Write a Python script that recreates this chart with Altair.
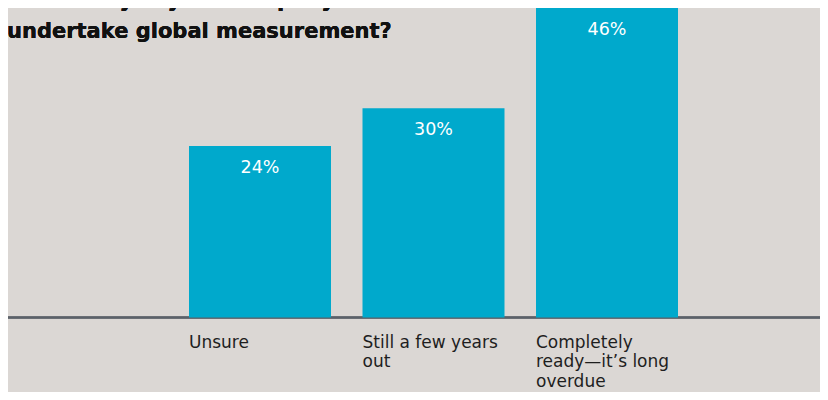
import altair as alt
import pandas as pd

categories = ["Unsure", "Still a few years out", "Completely ready—it’s long overdue"]
labels = ["Unsure", "Still a few years\nout", "Completely\nready—it’s long\noverdue"]
values = [24, 30, 46]
value_text = ["24%", "30%", "46%"]
title_lines = "How ready is your company to\nundertake global measurement?"

BASE = -3.35
FONT = "DejaVu Sans"
W = 812
H = 384
TOP = 46.0
PX_PER_UNIT = 6.273

df = pd.DataFrame({"cat": categories, "label": labels, "value": values,
                   "txt": value_text, "base": [BASE] * 3})

xscale = alt.Scale(domain=categories, range=[181, 670], paddingInner=0.1816, paddingOuter=0)
yscale = alt.Scale(domain=[TOP - H / PX_PER_UNIT, TOP], nice=False, zero=False)

base = alt.Chart(df)

bars = base.mark_bar(color="#00a9cc").encode(
    x=alt.X("cat:N", scale=xscale, axis=None),
    y=alt.Y("value:Q", scale=yscale, axis=None),
    y2="base:Q",
)

vals = base.mark_text(color="white", font=FONT, fontSize=17.5,
                      baseline="alphabetic", dy=27).encode(
    x=alt.X("cat:N", scale=xscale, axis=None),
    y=alt.Y("value:Q", scale=yscale, axis=None), text="txt:N")

rule = base.mark_rule(color="#5b6169", strokeWidth=2).encode(
    y=alt.Y("base:Q", scale=yscale, axis=None), x=alt.value(-1), x2=alt.value(W))

cats = base.mark_text(color="#1e1e1e", font=FONT, fontSize=17, align="left",
                      baseline="alphabetic", dy=30, dx=-71, lineBreak="\n", lineHeight=19.5).encode(
    x=alt.X("cat:N", scale=xscale, axis=None),
    y=alt.Y("base:Q", scale=yscale, axis=None), text="label:N")

title = base.mark_text(
    color="#111111", font=FONT, fontSize=21, fontWeight="bold", align="left",
    baseline="alphabetic", lineBreak="\n", lineHeight=31, text=title_lines).encode(
    x=alt.value(-1), y=alt.value(-1))

chart = alt.layer(rule, bars, vals, cats, title).properties(
    width=W, height=H, padding=0, autosize=alt.AutoSizeParams(type="none"),
    background="#dbd7d4"
).configure_view(stroke=None)

chart.save("out.html", embed_options={"renderer": "svg", "actions": False})
